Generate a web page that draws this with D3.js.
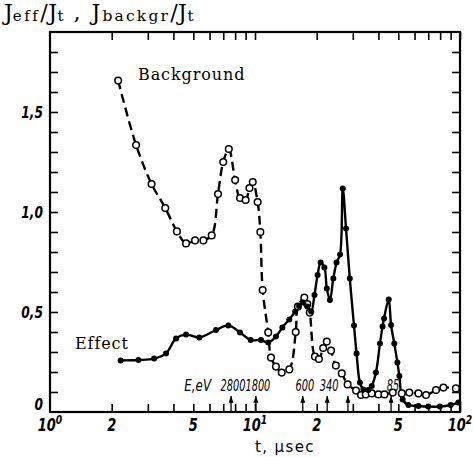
<!DOCTYPE html>
<html>
<head>
<meta charset="utf-8">
<title>Effect and background vs time of flight</title>
<script src="https://d3js.org/d3.v7.min.js"></script>
<style>
    body { margin: 0; background: #fff; }
    .tick line { stroke: #000; stroke-width: 1.6; }
    .tick text { display: none; }
    .num { font-family: "DejaVu Sans Condensed", "DejaVu Sans", sans-serif; font-style: italic; fill: #000; }
    .serif { font-family: "DejaVu Serif", "Liberation Serif", serif; fill: #000; }
</style>
</head>
<body>
<svg id="chart" width="474" height="457"></svg>
<script>
    // background series (open circles, dashed)
    const bgT = [2.15, 2.63, 3.13, 3.65, 4.16, 4.61, 5.1, 5.6, 6.15, 6.6, 7.0, 7.45, 8.0, 8.45, 9.0, 9.4, 9.75,
        10.3, 10.62, 10.9, 11.6, 11.97, 12.65, 13.5, 14.7, 15.8, 16.2, 17.4, 18.0, 18.5, 19.6, 20.5, 21.5, 22.4,
        23.5, 24.8, 26.5, 28.3, 31.1, 32.9, 34.7, 37.1, 40.0, 42.8, 47.0, 52.0, 56.6, 62.7, 68.3, 76.4, 83.0, 95.5];
    const bgY = [1.657, 1.335, 1.14, 1.02, 0.903, 0.843, 0.858, 0.858, 0.883, 1.09, 1.25, 1.315, 1.16, 1.07, 1.06, 1.12, 1.15,
        1.05, 0.90, 0.61, 0.398, 0.272, 0.227, 0.197, 0.213, 0.40, 0.527, 0.572, 0.54, 0.497, 0.277, 0.265, 0.32, 0.352,
        0.307, 0.232, 0.193, 0.138, 0.107, 0.085, 0.088, 0.093, 0.088, 0.088, 0.097, 0.093, 0.097, 0.093, 0.085, 0.11, 0.122, 0.118];

    // effect series (filled dots, solid)
    const efT = [2.21, 2.70, 3.22, 3.68, 4.12, 4.61, 5.35, 6.45, 7.41, 8.45, 9.53, 10.7, 11.6, 12.65, 13.6, 14.7,
        15.7, 16.4, 17.2, 18.0, 18.8, 19.5, 20.2, 20.9, 21.8, 22.4, 23.2, 24.1, 25.0, 26.0, 26.8, 27.8, 29.0, 30.4,
        31.3, 32.5, 33.8, 35.7, 37.1, 38.9, 40.7, 41.9, 42.6, 44.9, 46.1, 47.8, 49.5, 50.6, 52.5, 56.0, 62.7, 70.0,
        79.8, 90.1, 98.2];
    const efY = [0.258, 0.26, 0.267, 0.293, 0.368, 0.387, 0.373, 0.41, 0.433, 0.398, 0.36, 0.36, 0.347, 0.377, 0.423, 0.463,
        0.502, 0.53, 0.547, 0.527, 0.502, 0.585, 0.685, 0.747, 0.723, 0.618, 0.56, 0.668, 0.747, 0.788, 1.118, 0.918, 0.668, 0.432,
        0.293, 0.147, 0.113, 0.11, 0.13, 0.197, 0.343, 0.427, 0.468, 0.563, 0.435, 0.343, 0.248, 0.18, 0.063, 0.035, 0.03, 0.027,
        0.027, 0.035, 0.047];

    // axis labels
    const xLabelValues = [1, 2, 5, 10, 20, 50, 100];
    const xLabels = ["10^0", "2", "5", "10^1", "2", "5", "10^2"];
    const yLabelValues = [0, 0.5, 1.0, 1.5];
    const yLabels = ["0", "0,5", "1,0", "1,5"];

    // resonance energies marked by arrows
    const arrowT = [7.64, 10.1, 17.1, 22.5, 28.4, 46.1];
    const arrowLabels = ["2800", "1800", "600", "340", "", "85"];

    const svg = d3.select('#chart');
    const mLeft = 50, mRight = 460, mTop = 32, mBottom = 412;

    const x = d3.scaleLog().domain([1, 100]).range([mLeft, mRight]);
    const y = d3.scaleLinear().domain([0, 1.9]).range([mBottom, mTop]);

    // condensed italic number text
    function numText(px, py, anchor, size, squeeze) {
        return svg.append('text').attr('class', 'num')
            .attr('transform', 'translate(' + px + ',' + py + ') scale(' + squeeze + ',1)')
            .attr('text-anchor', anchor).attr('font-size', size);
    }

    // minor log ticks and 0.1 ticks, all pointing inward
    const xTicks = [];
    [1, 10].forEach(function (d) {
        for (let k = 2; k <= 10; k++) xTicks.push(d * k);
    });
    const yTicks = d3.range(1, 19).map(function (i) { return i / 10; });

    svg.append('g').attr('transform', 'translate(0,' + mBottom + ')')
        .call(d3.axisBottom(x).tickValues(xTicks).tickSize(-8).tickSizeOuter(0))
        .select('.domain').remove();
    svg.append('g').attr('transform', 'translate(0,' + mTop + ')')
        .call(d3.axisTop(x).tickValues(xTicks).tickSize(-8).tickSizeOuter(0))
        .select('.domain').remove();
    svg.append('g').attr('transform', 'translate(' + mLeft + ',0)')
        .call(d3.axisLeft(y).tickValues(yTicks).tickSize(-8).tickSizeOuter(0))
        .select('.domain').remove();
    svg.append('g').attr('transform', 'translate(' + mRight + ',0)')
        .call(d3.axisRight(y).tickValues(yTicks).tickSize(-8).tickSizeOuter(0))
        .select('.domain').remove();

    svg.append('rect')
        .attr('x', mLeft).attr('y', mTop)
        .attr('width', mRight - mLeft).attr('height', mBottom - mTop)
        .attr('fill', 'none').attr('stroke', '#000').attr('stroke-width', 2.2);

    // x labels, "10^n" gets a superscript
    xLabels.forEach(function (lab, i) {
        const t = numText(x(xLabelValues[i]), 431, 'middle', 17, 0.85).attr('font-weight', 'bold');
        const parts = lab.split('^');
        t.append('tspan').text(parts[0]);
        if (parts[1]) t.append('tspan').attr('dy', -7).attr('font-size', 12).text(parts[1]);
    });

    svg.append('text')
        .attr('x', 285).attr('y', 452).attr('text-anchor', 'middle')
        .attr('font-family', 'DejaVu Sans, sans-serif').attr('font-size', 15)
        .attr('letter-spacing', 1.4)
        .text('t, μsec');

    yLabels.forEach(function (lab, i) {
        const v = yLabelValues[i];
        numText(43, y(v) + (v === 0 ? -2 : 6), 'end', 16, 0.85)
            .attr('font-weight', 'bold').text(lab);
    });

    // title
    const title = svg.append('text').attr('class', 'serif').attr('x', 4).attr('y', 20);
    function piece(txt, size, dy, spacing) {
        title.append('tspan').attr('font-size', size).attr('dy', dy)
            .attr('letter-spacing', spacing).text(txt);
    }
    piece('J', 22, 0, 0);
    piece('eff', 15, 1, 2.5);
    piece('/J', 22, -1, 0.5);
    piece('t', 15, 1, 1);
    piece(' , J', 22, -1, 2);
    piece('backgr', 15.5, 1, 2.2);
    piece('/J', 22, -1, 0.5);
    piece('t', 15, 1, 0);

    // energy arrows
    svg.append('defs').append('marker')
        .attr('id', 'head').attr('viewBox', '0 0 6 8')
        .attr('refX', 3).attr('refY', 0)
        .attr('markerWidth', 5).attr('markerHeight', 7)
        .attr('markerUnits', 'userSpaceOnUse')
        .attr('orient', 0)
        .append('path').attr('d', 'M0,8 L3,0 L6,8 Z').attr('fill', '#000');

    arrowT.forEach(function (t, i) {
        svg.append('line')
            .attr('x1', x(t)).attr('x2', x(t))
            .attr('y1', mBottom).attr('y2', mBottom - 16)
            .attr('stroke', '#000').attr('stroke-width', 1.3)
            .attr('marker-end', 'url(#head)');
        if (arrowLabels[i]) {
            numText(x(t) + 2, 391, 'middle', 16.5, 0.66).text(arrowLabels[i]);
        }
    });
    numText(211, 391, 'end', 16.5, 0.8).text('E,eV');

    // curves
    const line = d3.line()
        .x(function (d) { return x(d[0]); })
        .y(function (d) { return y(d[1]); })
        .curve(d3.curveCatmullRom.alpha(0.5));

    const bg = bgT.map(function (t, i) { return [t, bgY[i]]; });
    const ef = efT.map(function (t, i) { return [t, efY[i]]; });

    svg.append('path').datum(bg)
        .attr('d', line).attr('fill', 'none')
        .attr('stroke', '#000').attr('stroke-width', 2.4)
        .attr('stroke-dasharray', '9,5');

    svg.append('path').datum(ef)
        .attr('d', line).attr('fill', 'none')
        .attr('stroke', '#000').attr('stroke-width', 2.4);

    svg.selectAll('circle.bg').data(bg).enter()
        .append('circle').attr('class', 'bg')
        .attr('cx', function (d) { return x(d[0]); })
        .attr('cy', function (d) { return y(d[1]); })
        .attr('r', 3.3)
        .attr('fill', '#fff').attr('stroke', '#000').attr('stroke-width', 1.5);

    svg.selectAll('circle.ef').data(ef).enter()
        .append('circle').attr('class', 'ef')
        .attr('cx', function (d) { return x(d[0]); })
        .attr('cy', function (d) { return y(d[1]); })
        .attr('r', 3)
        .attr('fill', '#000');

    // series names
    svg.append('text').attr('class', 'serif')
        .attr('x', 138).attr('y', 80).attr('font-size', 16).attr('letter-spacing', 0.9)
        .text('Background');
    svg.append('text').attr('class', 'serif')
        .attr('x', 75).attr('y', 349).attr('font-size', 16).attr('letter-spacing', 0.9)
        .text('Effect');
</script>
</body>
</html>
